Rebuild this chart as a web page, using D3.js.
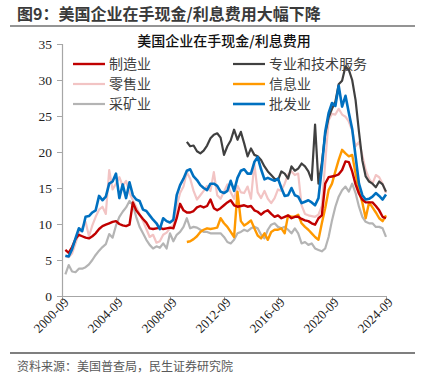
<!DOCTYPE html>
<html>
<head>
<meta charset="utf-8">
<script src="https://cdn.jsdelivr.net/npm/d3@7"></script>
<style>
  html, body { margin: 0; padding: 0; background: #fff; }
  svg { display: block; }
</style>
</head>
<body>
<div id="chart"></div>
<script>
// 季度数据：2000-12 至 2024-09
const firstQuarter = new Date(2000, 11, 1);
const lastQuarter = new Date(2024, 8, 1);

const manufacturing = [
  6.4, 6.0, 6.8, 7.9, 8.5, 8.3, 8.1, 8.0, 8.3, 8.7, 9.3, 9.7, 9.9, 10.1, 10.3, 10.4,
  10.0, 9.8, 9.7, 9.9, 13.0, 11.9, 11.3, 10.7, 10.2, 9.4, 9.3, 9.4, 9.5, 9.3, 9.4, 9.5,
  9.4, 10.8, 12.8, 11.9, 11.6, 11.6, 11.8, 12.3, 12.5, 12.3, 12.5, 13.4, 12.2, 11.9, 12.2, 12.6,
  13.0, 13.3, 12.6, 12.4, 12.5, 12.6, 12.4, 12.5, 11.9, 11.7, 11.3, 11.7, 11.9, 11.4, 11.0, 11.2,
  10.8, 11.0, 11.2, 10.8, 11.0, 11.0, 10.7, 10.5, 10.4, 10.1, 9.9, 10.8, 11.2, 15.6, 16.5, 16.6,
  16.7, 16.9, 17.5, 18.7, 18.6, 17.3, 15.5, 14.2, 13.4, 13.0, 13.0, 13.0, 12.5, 11.9, 11.0, 10.8
];
const retail = [
  5.5, 5.4, 5.9, 7.3, 8.8, 9.5, 10.3, 8.3, 9.8, 11.0, 12.0, 12.4, 11.4, 17.5, 14.8, 15.6,
  16.5, 15.3, 16.0, 14.3, 13.3, 12.4, 11.4, 10.4, 9.3, 8.2, 8.5, 7.4, 7.6, 8.5, 8.8, 9.4,
  9.8, 12.5, 14.3, 15.2, 17.2, 16.3, 14.6, 13.4, 14.0, 14.6, 15.3, 14.6, 17.2, 14.0, 13.5, 14.5,
  15.5, 14.4, 13.5, 15.3, 14.4, 14.3, 15.2, 13.5, 18.4, 14.4, 13.6, 14.6, 13.5, 12.9, 13.6, 14.8,
  14.6, 15.6, 16.9, 17.3, 16.8, 17.0, 12.6, 11.4, 11.2, 11.1, 11.0, 11.3, 12.5, 18.5, 24.4, 25.3,
  25.2, 26.0, 25.2, 24.9, 24.2, 23.0, 20.8, 21.4, 19.5, 17.5, 16.3, 15.6, 16.8, 16.5, 15.6, 14.3
];
const mining = [
  3.0, 4.3, 3.4, 3.3, 3.8, 3.8, 4.0, 4.4, 5.0, 5.7, 6.3, 6.8, 7.2, 8.6, 8.1, 9.8,
  11.0, 11.7, 12.3, 13.2, 12.6, 11.0, 9.6, 8.7, 7.8, 7.1, 6.6, 6.9, 6.7, 7.3, 6.6, 8.7,
  7.6, 8.5, 8.9, 9.6, 10.8, 9.4, 9.6, 9.5, 9.2, 8.9, 8.9, 8.7, 8.7, 8.7, 8.7, 8.2,
  7.5, 7.3, 7.8, 8.7, 8.9, 9.2, 9.0, 9.4, 9.6, 9.4, 8.5, 8.0, 9.2, 9.9, 10.1, 9.6,
  9.4, 9.6, 9.2, 8.7, 9.4, 8.7, 7.3, 7.5, 7.1, 7.3, 6.6, 6.4, 6.2, 6.6, 8.2, 10.5,
  12.4, 13.8, 14.7, 15.2, 14.5, 15.6, 14.3, 12.4, 11.0, 10.3, 10.1, 10.1, 9.6, 9.6, 9.4, 8.2
];
// 专业和技术服务、信息业自 2009-12 起
const professional = [
  21.4, 20.8, 20.9, 20.1, 19.8, 20.2, 20.9, 21.9, 22.4, 22.6, 22.0, 19.6,
  20.8, 21.6, 23.1, 21.7, 22.8, 21.2, 19.4, 20.5, 19.6, 19.4, 18.9, 18.0,
  17.3, 16.8, 16.3, 16.1, 17.3, 17.0, 16.3, 18.0, 17.4, 17.7, 18.4, 18.0,
  17.3, 16.1, 23.8, 15.6, 18.5, 22.5, 24.8, 26.0, 27.0, 29.4, 29.9, 31.9,
  31.4, 30.0, 27.2, 22.8, 18.8, 16.6, 15.9, 15.6, 15.1, 15.9, 15.5, 14.5
];
const information = [
  7.5, 7.6, 7.9, 8.3, 8.9, 9.2, 9.4, 9.3, 9.4, 9.5, 10.8, 10.1,
  9.6, 8.9, 8.2, 14.5, 10.4, 9.8, 10.1, 10.5, 9.4, 8.4, 8.0, 8.7,
  7.8, 8.9, 9.2, 9.2, 9.4, 8.7, 11.2, 11.0, 11.0, 11.3, 10.1, 9.6,
  9.2, 8.7, 8.2, 7.8, 10.1, 12.2, 14.7, 15.6, 17.3, 18.9, 20.3, 19.8,
  19.4, 19.6, 17.0, 14.5, 13.0, 10.8, 13.0, 12.3, 11.6, 10.8, 10.4, 11.2
];
const wholesale = [
  5.6, 5.5, 6.5, 8.0, 9.4, 9.0, 11.0, 11.1, 11.6, 11.9, 13.9, 13.3, 13.8, 15.6, 15.9, 17.0,
  13.6, 15.5, 13.6, 15.8, 14.0, 13.4, 13.2, 12.0, 11.8, 11.2, 10.6, 10.1, 9.3, 10.8, 10.4, 10.2,
  10.6, 14.0, 15.4, 16.3, 17.4, 17.6, 16.6, 16.1, 15.4, 15.0, 14.7, 15.6, 15.6, 15.3, 14.5, 14.3,
  14.6, 16.0, 14.6, 16.4, 17.4, 17.6, 17.0, 17.0, 18.6, 19.3, 17.6, 16.2, 16.4, 16.2, 16.0, 16.3,
  15.0, 13.9, 14.0, 15.0, 14.0, 13.8, 12.9, 13.1, 13.3, 13.0, 12.6, 13.6, 17.8, 22.8, 25.4, 26.8,
  26.4, 29.2, 26.3, 27.8, 25.4, 23.2, 19.4, 15.6, 14.0, 13.4, 13.5, 13.8, 14.3, 13.9, 13.4, 14.1
];

const tickLabels = ["2000-09", "2004-09", "2008-09", "2012-09", "2016-09", "2020-09", "2024-09"];
const yTicks = [0, 5, 10, 15, 20, 25, 30, 35];

const series = [
  { name: "制造业", values: manufacturing, color: "#C00000", width: 2.4 },
  { name: "零售业", values: retail, color: "#F2C4C4", width: 2.2 },
  { name: "采矿业", values: mining, color: "#B4B4B4", width: 2.2 },
  { name: "专业和技术服务", values: professional, color: "#404040", width: 2.2 },
  { name: "信息业", values: information, color: "#FF9900", width: 2.4 },
  { name: "批发业", values: wholesale, color: "#0070C0", width: 2.6 }
];

const CJK = '"Noto Sans CJK SC", "Noto Sans", sans-serif';
const SERIF = '"Liberation Serif", "Times New Roman", serif';

const W = 425, H = 384;
const margin = { left: 62, right: 39, top: 44, bottom: 88 };

const svg = d3.select("#chart").append("svg")
  .attr("width", W)
  .attr("height", H);

const quarters = d3.timeMonth.range(firstQuarter, d3.timeMonth.offset(lastQuarter, 1), 3);
const parseTick = d3.timeParse("%Y-%m");

const x = d3.scaleTime()
  .domain([parseTick(tickLabels[0]), parseTick(tickLabels[tickLabels.length - 1])])
  .range([margin.left, W - margin.right]);
const y = d3.scaleLinear()
  .domain([0, 35])
  .range([H - margin.bottom, margin.top]);

// 标题
svg.append("text")
  .attr("font-family", CJK)
  .attr("x", 17).attr("y", 20)
  .attr("font-size", 16).attr("font-weight", 700)
  .attr("fill", "#3a3a3a")
  .text("图9：美国企业在手现金/利息费用大幅下降");
svg.append("line")
  .attr("x1", 10).attr("x2", 415).attr("y1", 26).attr("y2", 26)
  .attr("stroke", "#707070").attr("stroke-width", 1.6);

// 图内标题
svg.append("text")
  .attr("font-family", CJK)
  .attr("x", 224).attr("y", 46)
  .attr("text-anchor", "middle")
  .attr("font-size", 14).attr("font-weight", 500)
  .attr("fill", "#111")
  .text("美国企业在手现金/利息费用");

// 坐标轴
const yAxis = svg.append("g")
  .attr("transform", `translate(${margin.left},0)`)
  .call(d3.axisLeft(y).tickValues(yTicks).tickSize(5).tickPadding(5))
  .attr("font-family", SERIF)
  .attr("font-size", 13.5);
yAxis.select(".domain").attr("stroke", "#a6a6a6").attr("stroke-width", 1.2);
yAxis.selectAll(".tick line").attr("stroke", "#a6a6a6");
yAxis.selectAll("text").attr("fill", "#222");

const xAxis = svg.append("g")
  .attr("transform", `translate(0,${H - margin.bottom})`)
  .call(d3.axisBottom(x)
    .tickValues(tickLabels.map(parseTick))
    .tickFormat(d3.timeFormat("%Y-%m"))
    .tickSize(5).tickSizeOuter(0))
  .attr("font-family", SERIF)
  .attr("font-size", 13);
xAxis.select(".domain").attr("stroke", "#a6a6a6").attr("stroke-width", 1.2);
xAxis.selectAll(".tick line").attr("stroke", "#a6a6a6");
xAxis.selectAll("text")
  .attr("fill", "#222")
  .attr("text-anchor", "end")
  .attr("transform", "translate(4,4) rotate(-45)")
  .attr("dy", "0.35em")
  .attr("y", 0);

// 折线
const line = d3.line()
  .defined(d => d.v != null)
  .x(d => x(d.date))
  .y(d => y(d.v));

const lineOrder = [2, 1, 4, 3, 0, 5];
lineOrder.forEach(i => {
  const s = series[i];
  const offset = quarters.length - s.values.length;
  const pts = s.values.map((v, k) => ({ date: quarters[k + offset], v }));
  svg.append("path")
    .datum(pts)
    .attr("fill", "none")
    .attr("stroke", s.color)
    .attr("stroke-width", s.width)
    .attr("stroke-linejoin", "round")
    .attr("d", line);
});

// 图例
const legend = svg.append("g").attr("font-family", CJK);
series.forEach((s, i) => {
  const col = Math.floor(i / 3), row = i % 3;
  const lx = col === 0 ? 73 : 233;
  const ly = 64 + row * 20;
  legend.append("line")
    .attr("x1", lx).attr("x2", lx + 32)
    .attr("y1", ly).attr("y2", ly)
    .attr("stroke", s.color).attr("stroke-width", s.width);
  legend.append("text")
    .attr("x", lx + 36).attr("y", ly)
    .attr("dy", "0.36em")
    .attr("font-size", 14)
    .attr("fill", "#404040")
    .text(s.name);
});

// 底部来源
svg.append("line")
  .attr("x1", 10).attr("x2", 415).attr("y1", 353).attr("y2", 353)
  .attr("stroke", "#555").attr("stroke-width", 1.4);
svg.append("text")
  .attr("font-family", CJK)
  .attr("x", 17).attr("y", 371)
  .attr("font-size", 12)
  .attr("fill", "#595959")
  .text("资料来源：美国普查局，民生证券研究院");
</script>
</body>
</html>
